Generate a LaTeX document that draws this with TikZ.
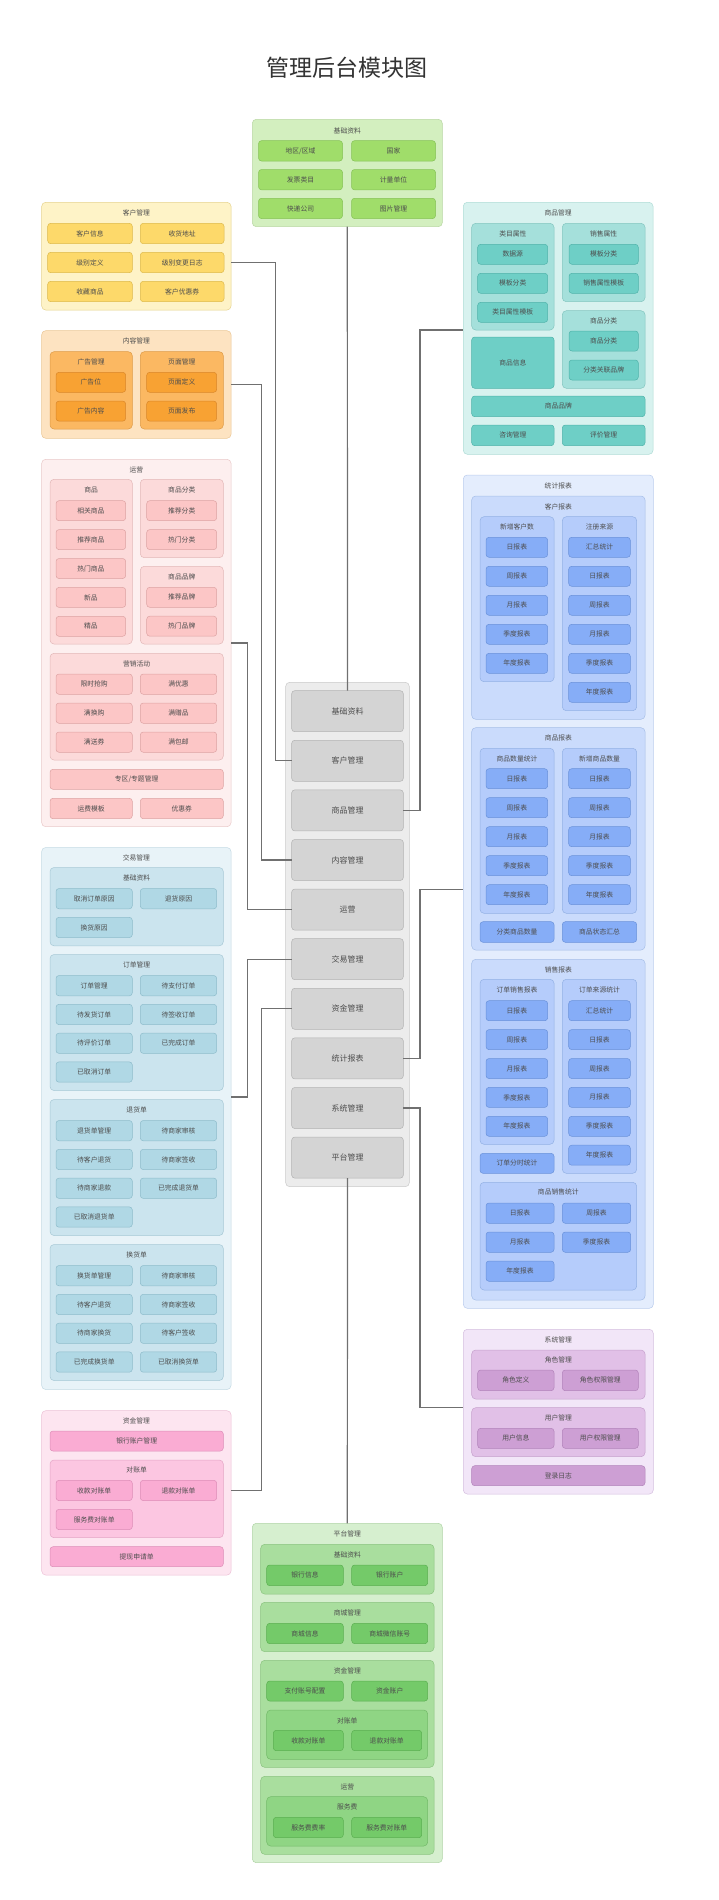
\documentclass[tikz,border=0pt]{standalone}
\usepackage{fontspec}
\newfontfamily\cjk{Noto Sans CJK SC}
\definecolor{txt}{HTML}{4D4D4D}
\definecolor{connc}{HTML}{707070}
\definecolor{JCof}{HTML}{D3EFBF}\definecolor{JCod}{HTML}{B9D7A3}
\definecolor{JCif}{HTML}{A0DD6A}\definecolor{JCid}{HTML}{86C257}
\definecolor{KHof}{HTML}{FEF3C7}\definecolor{KHod}{HTML}{E6D38E}
\definecolor{KHif}{HTML}{FDD96A}\definecolor{KHid}{HTML}{DDB94B}
\definecolor{NRof}{HTML}{FDE3C1}\definecolor{NROd}{HTML}{EBC796}
\definecolor{NRsf}{HTML}{FBB862}\definecolor{NRsd}{HTML}{DE9B47}
\definecolor{NRif}{HTML}{F8A233}\definecolor{NRid}{HTML}{D9872A}
\definecolor{YYof}{HTML}{FDEFEF}\definecolor{YYod}{HTML}{EAC9C9}
\definecolor{YYsf}{HTML}{FCDADA}\definecolor{YYsd}{HTML}{E3B8B8}
\definecolor{YYif}{HTML}{FCC6C6}\definecolor{YYid}{HTML}{DDA3A3}
\definecolor{JYof}{HTML}{E8F3F8}\definecolor{JYod}{HTML}{C4DAE4}
\definecolor{JYsf}{HTML}{CBE4EE}\definecolor{JYsd}{HTML}{A8C9D6}
\definecolor{JYif}{HTML}{B0D8E5}\definecolor{JYid}{HTML}{8EBCCB}
\definecolor{ZJof}{HTML}{FDE5F0}\definecolor{ZJod}{HTML}{EDC2D7}
\definecolor{ZJsf}{HTML}{FCC6E1}\definecolor{ZJsd}{HTML}{E4A5C5}
\definecolor{ZJif}{HTML}{FAACD3}\definecolor{ZJid}{HTML}{DD8DB7}
\definecolor{CTof}{HTML}{ECECEC}\definecolor{CTod}{HTML}{CACACA}
\definecolor{CTif}{HTML}{D4D4D4}\definecolor{CTid}{HTML}{B3B3B3}
\definecolor{SPof}{HTML}{D8F2EF}\definecolor{SPod}{HTML}{AFDCD6}
\definecolor{SPsf}{HTML}{A5E0DB}\definecolor{SPsd}{HTML}{84C6C0}
\definecolor{SPif}{HTML}{6ECFC6}\definecolor{SPid}{HTML}{50B3AA}
\definecolor{TJof}{HTML}{E4EDFD}\definecolor{TJod}{HTML}{BBCDEE}
\definecolor{TJsf}{HTML}{CADBFC}\definecolor{TJsd}{HTML}{A7BFE8}
\definecolor{TJtf}{HTML}{B5CCFB}\definecolor{TJtd}{HTML}{93B1E4}
\definecolor{TJif}{HTML}{86ADF7}\definecolor{TJid}{HTML}{6A92DA}
\definecolor{XTof}{HTML}{F2E6F8}\definecolor{XTod}{HTML}{D5BFDF}
\definecolor{XTsf}{HTML}{E1C0E7}\definecolor{XTsd}{HTML}{C6A1CD}
\definecolor{XTif}{HTML}{CD9FD4}\definecolor{XTid}{HTML}{B283BA}
\definecolor{PTof}{HTML}{D6EFCF}\definecolor{PTod}{HTML}{B0D4A7}
\definecolor{PTsf}{HTML}{A9DE9E}\definecolor{PTsd}{HTML}{8BC380}
\definecolor{PTtf}{HTML}{8FD584}\definecolor{PTtd}{HTML}{73BA69}
\definecolor{PTif}{HTML}{74CA69}\definecolor{PTid}{HTML}{5BAF51}
\newcommand\fsm{\cjk\fontsize{6.8}{8}\selectfont}
\newcommand\ibox[7]{\node[ib,#2,minimum width={(#5)-(#3)},minimum height={(#6)-(#4)}] (#1) at ({((#3)+(#5))/2},{((#4)+(#6))/2}) {#7};}
\newcommand\gbox[8]{\node[ib,rounded corners=4pt,#2,minimum width={(#5)-(#3)},minimum height={(#6)-(#4)}] (#1) at ({((#3)+(#5))/2},{((#4)+(#6))/2}) {};\node[lbl] (#1t) at ({((#3)+(#5))/2},#8) {#7};}
\newcommand\icol[8]{\foreach \tx [count=\i] in {#8} {\ibox{#1\i}{#2}{#3}{#4+(\i-1)*#6}{#5}{#4+(\i-1)*#6+#7}{\tx}}}
\begin{document}
\begin{tikzpicture}[x=1pt,y=-1pt,
  ib/.style={draw,rounded corners=3pt,inner sep=0pt,outer sep=0pt,line width=0.5pt,font=\fsm,text=txt},
  lbl/.style={inner sep=0pt,font=\fsm,text=txt},
  conn/.style={draw=connc,line width=1.2pt},
  cf/.style={font=\cjk\fontsize{8}{10}\selectfont},
  JCo/.style={fill=JCof,draw=JCod},JCi/.style={fill=JCif,draw=JCid},
  KHo/.style={fill=KHof,draw=KHod},KHi/.style={fill=KHif,draw=KHid},
  NRo/.style={fill=NRof,draw=NROd},NRs/.style={fill=NRsf,draw=NRsd},NRi/.style={fill=NRif,draw=NRid},
  YYo/.style={fill=YYof,draw=YYod},YYs/.style={fill=YYsf,draw=YYsd},YYi/.style={fill=YYif,draw=YYid},
  JYo/.style={fill=JYof,draw=JYod},JYs/.style={fill=JYsf,draw=JYsd},JYi/.style={fill=JYif,draw=JYid},
  ZJo/.style={fill=ZJof,draw=ZJod},ZJs/.style={fill=ZJsf,draw=ZJsd},ZJi/.style={fill=ZJif,draw=ZJid},
  CTo/.style={fill=CTof,draw=CTod},CTi/.style={fill=CTif,draw=CTid},
  SPo/.style={fill=SPof,draw=SPod},SPs/.style={fill=SPsf,draw=SPsd},SPi/.style={fill=SPif,draw=SPid},
  TJo/.style={fill=TJof,draw=TJod},TJs/.style={fill=TJsf,draw=TJsd},TJt/.style={fill=TJtf,draw=TJtd},TJi/.style={fill=TJif,draw=TJid},
  XTo/.style={fill=XTof,draw=XTod},XTs/.style={fill=XTsf,draw=XTsd},XTi/.style={fill=XTif,draw=XTid},
  PTo/.style={fill=PTof,draw=PTod},PTs/.style={fill=PTsf,draw=PTsd},PTt/.style={fill=PTtf,draw=PTtd},PTi/.style={fill=PTif,draw=PTid}]
\fill[white] (0,0) rectangle (719,1900);
\useasboundingbox (0,0) rectangle (719,1900);
\node[inner sep=0pt,font=\cjk\fontsize{23}{26}\selectfont,text=black!80] (title) at (346.5,68) {管理后台模块图};
% top basic data
\gbox{jc}{JCo}{252.3}{119.3}{442.3}{226.7}{基础资料}{130.7}
\icol{jca}{JCi}{258.5}{140.7}{342.5}{28.8}{20.3}{地区/区域,发票类目,快递公司}
\icol{jcb}{JCi}{351.5}{140.7}{435.5}{28.8}{20.3}{国家,计量单位,图片管理}
% customer
\gbox{kh}{KHo}{41.7}{202.3}{231}{310}{客户管理}{212.7}
\icol{kha}{KHi}{47.7}{223.3}{132.3}{29}{20.4}{客户信息,级别定义,收藏商品}
\icol{khb}{KHi}{140.3}{223.3}{224}{29}{20.4}{收货地址,级别变更日志,客户优惠券}
% content
\gbox{nr}{NRo}{41.7}{330.7}{231}{438.3}{内容管理}{341}
\gbox{nra}{NRs}{50}{351.7}{132.3}{429}{广告管理}{361.7}
\icol{nra}{NRi}{56}{372.3}{125.7}{28.8}{20}{广告位,广告内容}
\gbox{nrb}{NRs}{140.3}{351.7}{223.3}{429}{页面管理}{361.7}
\icol{nrb}{NRi}{146.7}{372.3}{216.7}{28.8}{20}{页面定义,页面发布}
% operation
\gbox{yy}{YYo}{41.7}{459.3}{231}{826.7}{运营}{470}
\gbox{yya}{YYs}{50}{479.3}{132.3}{644}{商品}{490}
\icol{yya}{YYi}{56}{500.7}{125.7}{28.9}{20}{相关商品,推荐商品,热门商品,新品,精品}
\gbox{yyb}{YYs}{140.3}{479.3}{223.3}{557.7}{商品分类}{490}
\icol{yyb}{YYi}{146.7}{500.7}{216.7}{28.9}{20}{推荐分类,热门分类}
\gbox{yyc}{YYs}{140.3}{566.3}{223.3}{644}{商品品牌}{576.8}
\icol{yyc}{YYi}{146.7}{587.3}{216.7}{28.9}{20}{推荐品牌,热门品牌}
\gbox{yyd}{YYs}{50}{653.3}{223.3}{760}{营销活动}{663.8}
\icol{yyd}{YYi}{56}{674}{132.3}{29}{20.3}{限时抢购,满换购,满送券}
\icol{yye}{YYi}{140.3}{674}{216.7}{29}{20.3}{满优惠,满赠品,满包邮}
\ibox{yyf}{YYi}{50}{769.3}{223.3}{789.3}{专区/专题管理}
\ibox{yyg}{YYi}{50}{798.3}{132.3}{818.7}{运费模板}
\ibox{yyh}{YYi}{140.3}{798.3}{223.3}{818.7}{优惠券}
% trade
\gbox{jy}{JYo}{41.7}{847.5}{231}{1389.5}{交易管理}{858}
\gbox{jg1}{JYs}{50}{867.5}{223.3}{945.8}{基础资料}{878}
\icol{jg1a}{JYi}{56}{888.5}{132.3}{28.8}{20.3}{取消订单原因,换货原因}
\icol{jg1b}{JYi}{140.3}{888.5}{216.7}{28.8}{20.3}{退货原因}
\gbox{jg2}{JYs}{50}{954.5}{223.3}{1090.5}{订单管理}{965}
\icol{jg2a}{JYi}{56}{975.5}{132.3}{28.8}{20.3}{订单管理,待发货订单,待评价订单,已取消订单}
\icol{jg2b}{JYi}{140.3}{975.5}{216.7}{28.8}{20.3}{待支付订单,待签收订单,已完成订单}
\gbox{jg3}{JYs}{50}{1099.5}{223.3}{1235.5}{退货单}{1110}
\icol{jg3a}{JYi}{56}{1120.5}{132.3}{28.8}{20.3}{退货单管理,待客户退货,待商家退款,已取消退货单}
\icol{jg3b}{JYi}{140.3}{1120.5}{216.7}{28.8}{20.3}{待商家审核,待商家签收,已完成退货单}
\gbox{jg4}{JYs}{50}{1244.5}{223.3}{1380.5}{换货单}{1255}
\icol{jg4a}{JYi}{56}{1265.5}{132.3}{28.8}{20.3}{换货单管理,待客户退货,待商家换货,已完成换货单}
\icol{jg4b}{JYi}{140.3}{1265.5}{216.7}{28.8}{20.3}{待商家审核,待商家签收,待客户签收,已取消换货单}
% funds
\gbox{zj}{ZJo}{41.7}{1410.7}{231}{1575}{资金管理}{1420.7}
\ibox{zj1}{ZJi}{50}{1431}{223.3}{1451}{银行账户管理}
\gbox{zjg}{ZJs}{50}{1460}{223.3}{1537.7}{对账单}{1470}
\icol{zja}{ZJi}{56}{1480.3}{132.3}{29}{20.3}{收款对账单,服务费对账单}
\ibox{zjb}{ZJi}{140.3}{1480.3}{216.7}{1500.6}{退款对账单}
\ibox{zj2}{ZJi}{50}{1546.7}{223.3}{1566.7}{提现申请单}
% center
\ibox{ct}{CTo,rounded corners=4pt}{285.7}{682.3}{409.3}{1186.7}{}
\icol{c}{CTi,cf}{291.7}{690.7}{403.3}{49.6}{41}{基础资料,客户管理,商品管理,内容管理,运营,交易管理,资金管理,统计报表,系统管理,平台管理}
% goods
\gbox{sp}{SPo}{463.3}{202.3}{653}{454.3}{商品管理}{212.7}
\gbox{spa}{SPs}{471.7}{223.3}{554}{330}{类目属性}{233.8}
\icol{spa}{SPi}{477.7}{244.3}{547.7}{29}{20}{数据源,模板分类,类目属性模板}
\gbox{spb}{SPs}{562.3}{223.3}{645}{301.7}{销售属性}{233.8}
\icol{spb}{SPi}{569}{244.3}{638.3}{29}{20}{模板分类,销售属性模板}
\gbox{spc}{SPs}{562.3}{310.7}{645}{388.3}{商品分类}{321.2}
\icol{spc}{SPi}{569}{331}{638.3}{29}{20}{商品分类,分类关联品牌}
\ibox{spd}{SPi}{471.7}{337}{554}{388.3}{商品信息}
\ibox{spe}{SPi}{471.7}{396}{645}{416.7}{商品品牌}
\ibox{spf}{SPi}{471.7}{425}{554}{445.7}{咨询管理}
\ibox{spg}{SPi}{562.3}{425}{645}{445.7}{评价管理}
% statistics
\gbox{tj}{TJo}{463.3}{475}{653.3}{1308.3}{统计报表}{485.7}
\gbox{tja}{TJs}{471.7}{496}{645}{719.3}{客户报表}{506.7}
\gbox{tja1}{TJt}{480}{516.7}{554}{681.7}{新增客户数}{527.3}
\icol{tja1i}{TJi}{486}{537.3}{547.7}{29}{20}{日报表,周报表,月报表,季度报表,年度报表}
\gbox{tja2}{TJt}{562.3}{516.7}{636.7}{710.7}{注册来源}{527.3}
\icol{tja2i}{TJi}{568.7}{537.3}{630.3}{29}{20}{汇总统计,日报表,周报表,月报表,季度报表,年度报表}
\gbox{tjb}{TJs}{471.7}{727.7}{645}{950}{商品报表}{738.3}
\gbox{tjb1}{TJt}{480}{748.3}{554}{913.3}{商品数量统计}{758.7}
\icol{tjb1i}{TJi}{486}{768.7}{547.7}{29}{20}{日报表,周报表,月报表,季度报表,年度报表}
\gbox{tjb2}{TJt}{562.3}{748.3}{636.7}{913.3}{新增商品数量}{758.7}
\icol{tjb2i}{TJi}{568.7}{768.7}{630.3}{29}{20}{日报表,周报表,月报表,季度报表,年度报表}
\ibox{tjb3}{TJi}{480}{921.7}{554}{942.3}{分类商品数量}
\ibox{tjb4}{TJi}{562.3}{921.7}{636.7}{942.3}{商品状态汇总}
\gbox{tjc}{TJs}{471.7}{959.3}{645}{1300}{销售报表}{970}
\gbox{tjc1}{TJt}{480}{979.3}{554}{1144.3}{订单销售报表}{990}
\icol{tjc1i}{TJi}{486}{1000.7}{547.7}{28.9}{20}{日报表,周报表,月报表,季度报表,年度报表}
\gbox{tjc2}{TJt}{562.3}{979.3}{636.7}{1173.3}{订单来源统计}{990}
\icol{tjc2i}{TJi}{568.7}{1000.7}{630.3}{28.9}{20}{汇总统计,日报表,周报表,月报表,季度报表,年度报表}
\ibox{tjc3}{TJi}{480}{1153.3}{554}{1173.3}{订单分时统计}
\gbox{tjc4}{TJt}{480}{1182.3}{636.7}{1290}{商品销售统计}{1192.3}
\icol{tjc4a}{TJi}{486}{1203}{554}{29}{20.3}{日报表,月报表,年度报表}
\icol{tjc4b}{TJi}{562.3}{1203}{630.7}{29}{20.3}{周报表,季度报表}
% system
\gbox{xt}{XTo}{463.3}{1329.3}{653.3}{1494}{系统管理}{1340}
\gbox{xta}{XTs}{471.7}{1350}{645}{1399}{角色管理}{1360}
\ibox{xta1}{XTi}{477.7}{1370}{554}{1390.7}{角色定义}
\ibox{xta2}{XTi}{562.3}{1370}{638.3}{1390.7}{角色权限管理}
\gbox{xtb}{XTs}{471.7}{1407.7}{645}{1456.7}{用户管理}{1418.3}
\ibox{xtb1}{XTi}{477.7}{1428.3}{554}{1448.3}{用户信息}
\ibox{xtb2}{XTi}{562.3}{1428.3}{638.3}{1448.3}{用户权限管理}
\ibox{xtc}{XTi}{471.7}{1465.7}{645}{1485.7}{登录日志}
% platform
\gbox{pt}{PTo}{252.3}{1523.3}{442.3}{1862.7}{平台管理}{1534}
\gbox{pta}{PTs}{260.7}{1544.3}{434}{1594}{基础资料}{1555}
\ibox{pta1}{PTi}{266.7}{1565}{343.3}{1585.7}{银行信息}
\ibox{pta2}{PTi}{351.7}{1565}{427.7}{1585.7}{银行账户}
\gbox{ptb}{PTs}{260.7}{1602.3}{434}{1651.7}{商城管理}{1613.3}
\ibox{ptb1}{PTi}{266.7}{1623.3}{343.3}{1643.7}{商城信息}
\ibox{ptb2}{PTi}{351.7}{1623.3}{427.7}{1643.7}{商城微信账号}
\gbox{ptc}{PTs}{260.7}{1660.3}{434}{1767.3}{资金管理}{1670.7}
\ibox{ptc1}{PTi}{266.7}{1681}{343.3}{1701}{支付账号配置}
\ibox{ptc2}{PTi}{351.7}{1681}{427.7}{1701}{资金账户}
\gbox{ptd}{PTt}{266.7}{1710}{427.7}{1759.3}{对账单}{1720.7}
\ibox{ptd1}{PTi}{273.3}{1730.3}{343.3}{1750.7}{收款对账单}
\ibox{ptd2}{PTi}{351.7}{1730.3}{421.7}{1750.7}{退款对账单}
\gbox{pte}{PTs}{260.7}{1776.3}{434}{1854.3}{运营}{1786.7}
\gbox{ptf}{PTt}{266.7}{1796.7}{427.7}{1846}{服务费}{1807.3}
\ibox{ptf1}{PTi}{273.3}{1817.3}{343.3}{1837.7}{服务费费率}
\ibox{ptf2}{PTi}{351.7}{1817.3}{421.7}{1837.7}{服务费对账单}
% connectors
\draw[conn] (jc.south) -- (c1.north);
\draw[conn] ([yshift=-6.5pt]kh.east) -| ([xshift=-16pt]c2.west) -- (c2.west);
\draw[conn] (nr.east) -| ([xshift=-30pt]c4.west) -- (c4.west);
\draw[conn] (yy.east) -| ([xshift=-44.4pt]c5.west) -- (c5.west);
\draw[conn] ([yshift=21.5pt]jy.east) -| ([xshift=-44.4pt]c6.west) -- (c6.west);
\draw[conn] ([yshift=2pt]zj.east) -| ([xshift=-30pt]c7.west) -- (c7.west);
\draw[conn] (c3.east) -| ([xshift=-43.3pt,yshift=-1.7pt]sp.west) -- ([yshift=-1.7pt]sp.west);
\draw[conn] (c8.east) -| ([xshift=-43.3pt,yshift=2.4pt]tj.west) -- ([yshift=2.4pt]tj.west);
\draw[conn] (c9.east) -| ([xshift=-43.3pt,yshift=3.8pt]xt.west) -- ([yshift=3.8pt]xt.west);
\draw[conn] (c10.south) -- (pt.north);
\end{tikzpicture}
\end{document}
